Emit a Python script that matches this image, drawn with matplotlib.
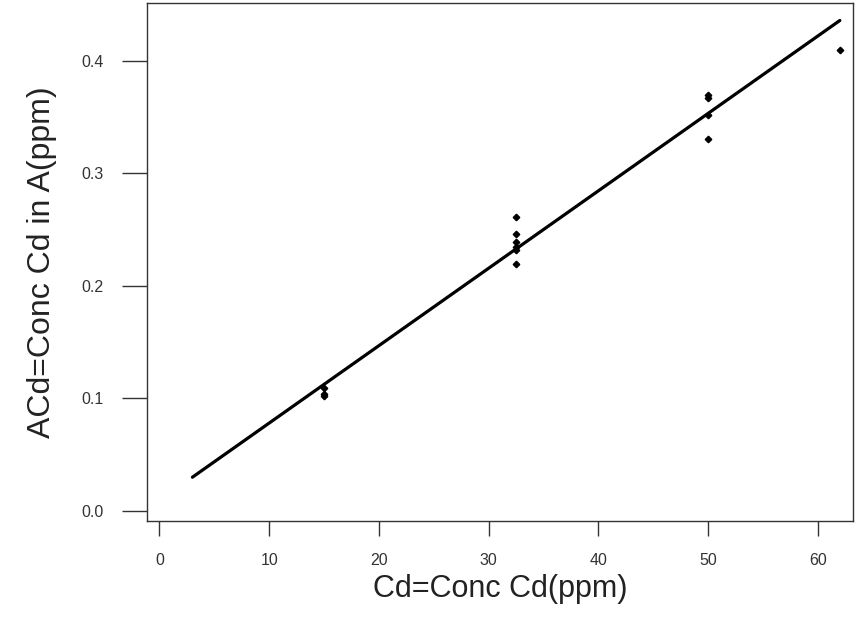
import matplotlib
matplotlib.use("Agg")
import matplotlib.pyplot as plt

plt.rcParams['font.family'] = ['Liberation Sans', 'DejaVu Sans']

# Observed data
x_obs = [15, 15, 15, 32.5, 32.5, 32.5, 32.5, 32.5, 32.5, 50, 50, 50, 50, 62]
y_obs = [0.109, 0.104, 0.102, 0.261, 0.246, 0.239, 0.235, 0.232, 0.2195,
         0.370, 0.367, 0.352, 0.331, 0.410]

# Fitted line endpoints
x_fit = [3, 62]
y_fit = [0.030, 0.436]

x_ticks = [0, 10, 20, 30, 40, 50, 60]
y_ticks = [0.0, 0.1, 0.2, 0.3, 0.4]
y_ticklabels = ["0.0", "0.1", "0.2", "0.3", "0.4"]

fig = plt.figure(figsize=(8.56, 6.29), dpi=100)
ax = fig.add_axes([0.1721, 0.1712, 0.8244, 0.8236])

ax.plot(x_fit, y_fit, color='black', linewidth=2.3, solid_capstyle='round')
ax.plot(x_obs, y_obs, linestyle='none', marker='D', markersize=3.3,
        color='black')

ax.set_xlim(-1.11, 63.2)
ax.set_ylim(-0.0092, 0.4513)
ax.set_xticks(x_ticks)
ax.set_yticks(y_ticks)
ax.set_yticklabels(y_ticklabels)

for s in ax.spines.values():
    s.set_linewidth(1.0)
    s.set_color('#333333')

ax.tick_params(axis='x', direction='out', length=10.6, width=1.0,
               color='#333333', pad=12.5, labelsize=11.5, labelcolor='#333333')
ax.tick_params(axis='y', direction='out', length=17.7, width=1.0,
               color='#333333', pad=14, labelsize=11.5, labelcolor='#333333')

ax.set_xlabel("Cd=Conc Cd(ppm)", fontsize=22, color='#222222', labelpad=4)
ax.set_ylabel("ACd=Conc Cd in A(ppm)", fontsize=23, color='#222222', labelpad=17)

fig.savefig("out.png", dpi=100)
